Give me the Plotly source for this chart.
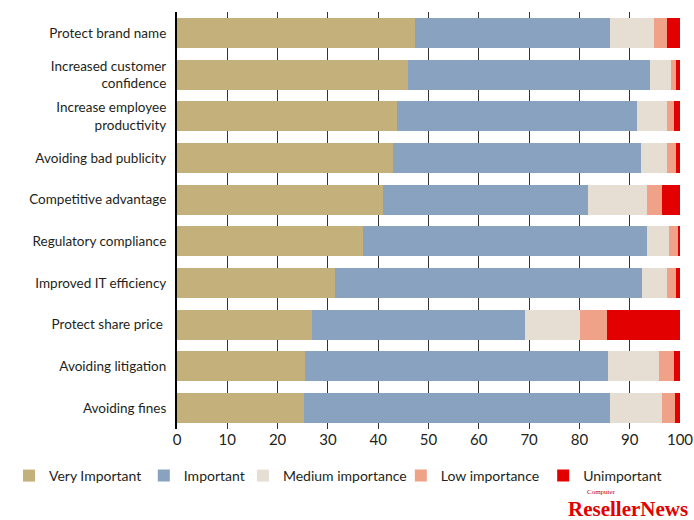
import plotly.graph_objects as go

# Reasons for investing, share of respondents by importance level (%)
reasons = [
    "Protect brand name",
    "Increased customer<br>confidence",
    "Increase employee<br>productivity",
    "Avoiding bad publicity",
    "Competitive advantage",
    "Regulatory compliance",
    "Improved IT efficiency",
    "Protect share price ",
    "Avoiding litigation",
    "Avoiding fines",
]

very_important = [47.3, 45.9, 43.7, 42.9, 40.9, 37.0, 31.4, 26.8, 25.4, 25.2]
important      = [38.7, 48.1, 47.7, 49.3, 40.8, 56.4, 61.0, 42.3, 60.2, 60.8]
medium         = [8.8, 4.3, 6.0, 5.2, 11.7, 4.5, 5.0, 11.0, 10.2, 10.4]
low            = [2.6, 1.0, 1.4, 1.9, 3.0, 1.8, 1.9, 5.3, 3.0, 2.7]
unimportant    = [2.6, 0.7, 1.2, 0.7, 3.6, 0.3, 0.7, 14.6, 1.2, 0.9]

series_names = ["Very Important", "Important", "Medium importance",
                "Low importance", "Unimportant"]
series_values = [very_important, important, medium, low, unimportant]
series_colors = ["#C4B07B", "#89A2BF", "#E7DED3", "#F0A289", "#E20000"]

# each legend entry sits in its own legend box along the bottom row
legend_x = [-0.334, -0.066, 0.131, 0.445, 0.728]
legend_y = -0.1127

FONT = "Lato"
TEXT = "#231f20"

fig = go.Figure()
for i, (name, vals, color) in enumerate(zip(series_names, series_values, series_colors)):
    fig.add_trace(go.Bar(
        y=reasons, x=vals, name=name, orientation="h",
        marker=dict(color=color, line=dict(width=0)),
        legend="legend" if i == 0 else f"legend{i + 1}",
        hovertemplate="%{y}: %{x}%<extra>" + name + "</extra>",
    ))

legend_layout = {}
for i, lx in enumerate(legend_x):
    key = "legend" if i == 0 else f"legend{i + 1}"
    legend_layout[key] = dict(
        orientation="h", x=lx, xanchor="left", y=legend_y, yanchor="middle",
        font=dict(family=FONT, size=14, color=TEXT),
        itemwidth=30, bgcolor="rgba(0,0,0,0)", borderwidth=0,
    )

fig.update_layout(
    width=694, height=520,
    barmode="stack", bargap=0.28,
    plot_bgcolor="white", paper_bgcolor="white",
    margin=dict(l=177, r=14, t=12, b=91, autoexpand=False),
    font=dict(family=FONT, color=TEXT, size=14),
    showlegend=True,
    xaxis=dict(
        range=[0, 100], dtick=10, tick0=0,
        showgrid=True, gridcolor="#333333", gridwidth=1,
        zeroline=False, showline=False, automargin=False,
        ticks="", tickfont=dict(family=FONT, size=15, color=TEXT),
        fixedrange=True,
    ),
    yaxis=dict(
        autorange="reversed", automargin=False,
        showline=True, linecolor="#000000", linewidth=2,
        ticks="", ticklabelstandoff=6,
        tickfont=dict(family=FONT, size=13.5, color=TEXT),
        fixedrange=True,
    ),
    annotations=[
        dict(text="Computer", xref="paper", yref="paper", x=0.811, y=-0.165,
             xanchor="left", yanchor="bottom", showarrow=False,
             font=dict(family="Liberation Serif", size=7, color="#C00000")),
        dict(text="<b>ResellerNews</b>", xref="paper", yref="paper", x=1.0, y=-0.226,
             xanchor="right", yanchor="bottom", showarrow=False, xshift=10,
             font=dict(family="Liberation Serif", size=21, color="#E20000")),
    ],
    **legend_layout,
)

fig.write_html("out.html")
